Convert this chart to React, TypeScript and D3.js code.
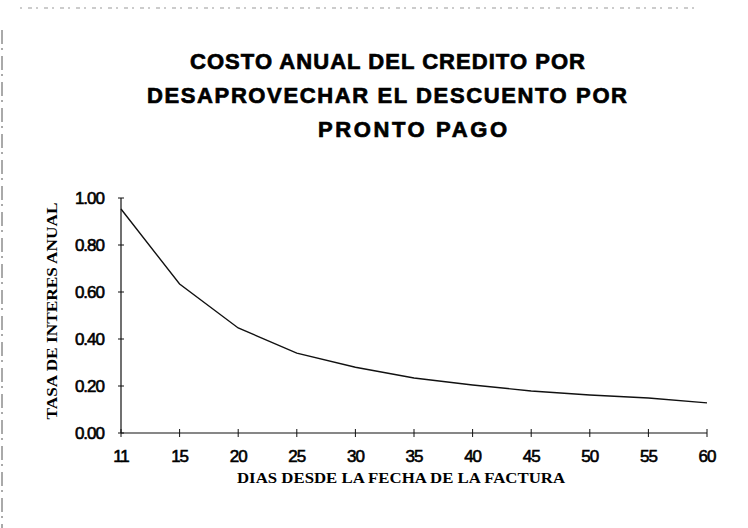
import React from "react";
import * as d3 from "d3";

const categories = ["11", "15", "20", "25", "30", "35", "40", "45", "50", "55", "60"];
const values = [0.953, 0.634, 0.447, 0.34, 0.28, 0.234, 0.204, 0.179, 0.162, 0.149, 0.128];
const yTicks = [0, 0.2, 0.4, 0.6, 0.8, 1.0];
const titleLines = ["COSTO ANUAL DEL CREDITO POR", "DESAPROVECHAR EL DESCUENTO POR", "PRONTO PAGO"];
const yTitle = "TASA DE INTERES ANUAL";
const xTitle = "DIAS DESDE LA FECHA DE LA FACTURA";

const W = 748;
const H = 528;

export default function App() {
  const x = d3.scalePoint<string>().domain(categories).range([121, 707]);
  const y = d3.scaleLinear().domain([0, 1]).range([433, 198]);
  const line = d3
    .line<number>()
    .x((_, i) => x(categories[i]) as number)
    .y((d) => y(d));

  const titleGeom = [
    { cx: 387.5, base: 69, len: 395 },
    { cx: 387, base: 103, len: 480 },
    { cx: 412.5, base: 137, len: 189 },
  ];

  return (
    <svg
      width={W}
      height={H}
      style={{ position: "absolute", left: 0, top: 0, background: "#fff" }}
    >
      {/* scan artifacts: faint page borders */}
      <line x1={2} y1={30} x2={2} y2={528} stroke="#555" strokeWidth={1} strokeDasharray="14,4,2,6" />
      <line x1={20} y1={8} x2={700} y2={8} stroke="#999" strokeWidth={1} strokeDasharray="2,6,4,4" />

      {titleLines.map((t, i) => (
        <text
          key={i}
          x={titleGeom[i].cx}
          y={titleGeom[i].base}
          textAnchor="middle"
          fontFamily="'Liberation Sans', Arial, sans-serif"
          fontWeight="bold"
          fontSize={22}
          textLength={titleGeom[i].len}
          lengthAdjust="spacing"
          fill="#000"
          stroke="#000"
          strokeWidth={0.7}
        >
          {t}
        </text>
      ))}

      {/* Y axis */}
      <line x1={121} y1={y(1)} x2={121} y2={y(0)} stroke="#111" strokeWidth={1.2} />
      {yTicks.map((t) => (
        <g key={t}>
          <line x1={118} x2={124} y1={y(t)} y2={y(t)} stroke="#111" strokeWidth={1} />
          <text
            x={104}
            y={y(t) + 6}
            textAnchor="end"
            fontFamily="'Liberation Sans', Arial, sans-serif"
            fontSize={17}
            letterSpacing={-1}
            fill="#000"
            stroke="#000"
            strokeWidth={0.6}
          >
            {d3.format(".2f")(t)}
          </text>
        </g>
      ))}

      {/* X axis */}
      <line x1={x(categories[0])} y1={433} x2={x(categories[categories.length - 1])} y2={433} stroke="#111" strokeWidth={1.2} />
      {categories.map((c) => (
        <g key={c}>
          <line x1={x(c)} x2={x(c)} y1={429} y2={437} stroke="#111" strokeWidth={1} />
          <text
            x={x(c)}
            y={462}
            textAnchor="middle"
            fontFamily="'Liberation Sans', Arial, sans-serif"
            fontSize={17}
            letterSpacing={-1}
            fill="#000"
            stroke="#000"
            strokeWidth={0.6}
          >
            {c}
          </text>
        </g>
      ))}

      {/* data line */}
      <path d={line(values) || ""} fill="none" stroke="#111" strokeWidth={1.4} />

      {/* axis titles */}
      <text
        transform="translate(57,311) rotate(-90)"
        textAnchor="middle"
        fontFamily="'Liberation Serif', 'Times New Roman', serif"
        fontWeight="bold"
        fontSize={15}
        textLength={217}
        lengthAdjust="spacingAndGlyphs"
        fill="#000"
      >
        {yTitle}
      </text>
      <text
        x={401}
        y={483}
        textAnchor="middle"
        fontFamily="'Liberation Serif', 'Times New Roman', serif"
        fontWeight="bold"
        fontSize={15}
        textLength={328}
        lengthAdjust="spacingAndGlyphs"
        fill="#000"
      >
        {xTitle}
      </text>
    </svg>
  );
}
